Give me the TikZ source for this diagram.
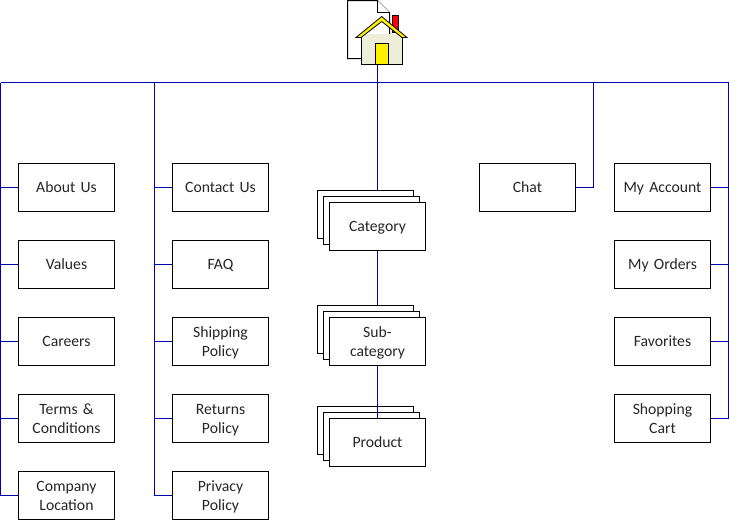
\documentclass[tikz,border=0pt]{standalone}
\usepackage{fontspec}
\setmainfont{Carlito}
\definecolor{linkblue}{HTML}{0000B0}
\definecolor{housewall}{HTML}{EEEED8}
\tikzset{
  x=1pt,y=-1pt,
  pagebox/.style={draw=black,line width=1pt,fill=white,minimum width=96pt,minimum height=47.5pt,inner sep=0pt,align=center,text width=90pt,text=black!85,font=\fontsize{15.7}{19}\selectfont,execute at begin node={\rule{0pt}{13.5pt}},execute at end node={\rule[-2.5pt]{0pt}{2.5pt}}},
  stackbox/.style={draw=black,line width=1pt,fill=white,minimum width=96pt,minimum height=47.5pt,inner sep=0pt},
  link/.style={draw=linkblue,line width=1pt},
  iconline/.style={draw=black,line width=1pt,line join=miter}
}
\begin{document}
\begin{tikzpicture}
\useasboundingbox (0,0) rectangle (729,520);
\fill[white] (0,0) rectangle (729,520);
% bus anchors
\coordinate (busL) at (0.5,82.5);
\coordinate (busA) at (154.5,82.5);
\coordinate (busM) at (377.5,82.5);
\coordinate (busC) at (593.5,82.5);
\coordinate (busR) at (728.5,82.5);
% home icon
\coordinate (home) at (377.5,64.5);
\draw[iconline,fill=white] (347.5,0.5) -- (377.5,0.5) -- (389.5,12.5) -- (389.5,58.5) -- (347.5,58.5) -- cycle;
\draw[iconline,line width=0.6pt,fill=white] (377.5,0.5) -- (377.5,12.5) -- (389.5,12.5);
\draw[iconline,fill=red] (392.5,15.5) rectangle (398.5,32.5);
\fill[housewall] (361.5,34) rectangle (402.5,64.5);
\draw[iconline] (361.5,37) -- (361.5,64.5) -- (402.5,64.5) -- (402.5,37);
\draw[iconline,line width=0.8pt,fill=yellow] (356,37.5) -- (381.7,16.5) -- (407,37.5) -- (402,37.5) -- (381.7,21.5) -- (361,37.5) -- cycle;
\draw[iconline,fill=yellow] (375.5,43.5) rectangle (388.5,64.5);
% left columns
\node[pagebox] (about) at (66.5,187.25) {About Us};
\node[pagebox] (values) at (66.5,264.25) {Values};
\node[pagebox] (careers) at (66.5,341.25) {Careers};
\node[pagebox] (terms) at (66.5,418.25) {Terms \&\\Conditions};
\node[pagebox] (company) at (66.5,495.25) {Company\\Location};
\node[pagebox] (contact) at (220.5,187.25) {Contact Us};
\node[pagebox] (faq) at (220.5,264.25) {FAQ};
\node[pagebox] (shipping) at (220.5,341.25) {Shipping\\Policy};
\node[pagebox] (returns) at (220.5,418.25) {Returns\\Policy};
\node[pagebox] (privacy) at (220.5,495.25) {Privacy\\Policy};
% right columns
\node[pagebox] (chat) at (527.5,187.25) {Chat};
\node[pagebox] (account) at (662.5,187.25) {My Account};
\node[pagebox] (orders) at (662.5,264.25) {My Orders};
\node[pagebox] (favorites) at (662.5,341.25) {Favorites};
\node[pagebox] (cart) at (662.5,418.25) {Shopping\\Cart};
% stacks
\node[stackbox] (catC) at (365.5,214.25) {};
\node[stackbox] (catB) at (371.5,220.25) {};
\node[pagebox] (cat) at (377.5,226.25) {Category};
\node[stackbox] (subC) at (365.5,329.25) {};
\node[stackbox] (subB) at (371.5,335.25) {};
\node[pagebox] (sub) at (377.5,341.25) {Sub-\\category};
\node[stackbox] (prodC) at (365.5,430.25) {};
\node[stackbox] (prodB) at (371.5,436.25) {};
\node[pagebox] (prod) at (377.5,442.25) {Product};
% connectors
\draw[link] (busL) -- (busR);
\draw[link] (home) -- (home |- catC.north);
\draw[link] (cat.south) -- (cat.south |- subC.north);
\draw[link] (sub.south) -- (prod.north);
\draw[link] (company.west) -| (busL);
\draw[link] (about.west) -- (about.west -| busL);
\draw[link] (values.west) -- (values.west -| busL);
\draw[link] (careers.west) -- (careers.west -| busL);
\draw[link] (terms.west) -- (terms.west -| busL);
\draw[link] (privacy.west) -| (busA);
\draw[link] (contact.west) -- (contact.west -| busA);
\draw[link] (faq.west) -- (faq.west -| busA);
\draw[link] (shipping.west) -- (shipping.west -| busA);
\draw[link] (returns.west) -- (returns.west -| busA);
\draw[link] (chat.east) -| (busC);
\draw[link] (cart.east) -| (busR);
\draw[link] (account.east) -- (account.east -| busR);
\draw[link] (orders.east) -- (orders.east -| busR);
\draw[link] (favorites.east) -- (favorites.east -| busR);
\end{tikzpicture}
\end{document}
